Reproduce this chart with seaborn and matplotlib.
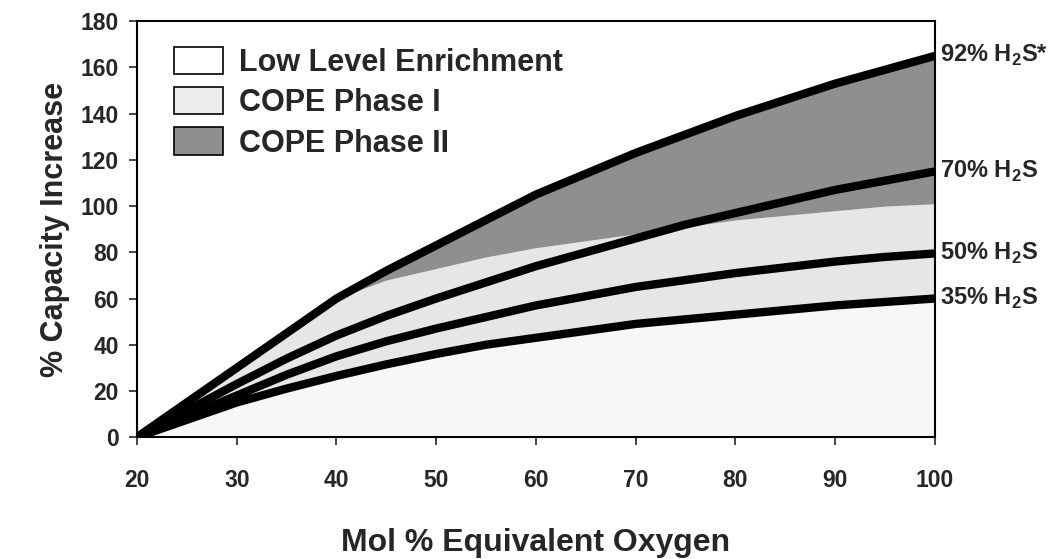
import numpy as np
import pandas as pd
import seaborn as sns
import matplotlib
matplotlib.use("Agg")
from matplotlib import pyplot as plt
from matplotlib.patches import Patch

# data
oxygen = [20, 25, 30, 35, 40, 45, 50, 55, 60, 65, 70, 75, 80, 85, 90, 95, 100]
h2s_92 = [0, 15, 30, 45, 60, 72, 83, 94, 105, 114, 123, 131, 139, 146, 153, 159, 165]
h2s_70 = [0, 11.5, 23, 34, 44, 52.5, 60, 67, 74, 80, 86, 92, 97, 102, 107, 111, 115]
h2s_50 = [0, 9, 18, 27, 35, 41.5, 47, 52, 57, 61, 65, 68, 71, 73.5, 76, 78, 79.5]
h2s_35 = [0, 7.5, 15, 21, 26.5, 31.5, 36, 40, 43, 46, 49, 51, 53, 55, 57, 58.5, 60]
# upper edge of the COPE Phase I zone
phase1_top = [0, 15, 30, 45, 60, 68, 73, 78, 82, 85, 88, 91, 94, 96, 98, 100, 101]

curve_names = ["92% H$_\\mathbf{2}$S*", "70% H$_\\mathbf{2}$S",
               "50% H$_\\mathbf{2}$S", "35% H$_\\mathbf{2}$S"]
legend_names = ["Low Level Enrichment", "COPE Phase I", "COPE Phase II"]

sns.set_style("ticks")
plt.rcParams["font.family"] = ["Liberation Sans", "DejaVu Sans"]
plt.rcParams["font.weight"] = "bold"
plt.rcParams["axes.labelweight"] = "bold"
plt.rcParams["mathtext.fontset"] = "custom"
plt.rcParams["mathtext.rm"] = "Liberation Sans:bold"
plt.rcParams["mathtext.bf"] = "Liberation Sans:bold"

df = pd.DataFrame({"oxygen": oxygen * 4,
                   "increase": h2s_92 + h2s_70 + h2s_50 + h2s_35,
                   "curve": sum([[n] * len(oxygen) for n in curve_names], [])})

fig = plt.figure(figsize=(10.54, 5.59), dpi=100)
ax = fig.add_axes([0.130, 0.218, 0.757, 0.744])

x = np.array(oxygen)
top = np.array(h2s_92)
p1 = np.minimum(np.array(phase1_top), top)
ax.fill_between(x, 0, h2s_35, color="#f7f7f7", lw=0)
ax.fill_between(x, h2s_35, p1, color="#e6e6e6", lw=0)
ax.fill_between(x, p1, top, color="#8f8f8f", lw=0)

sns.lineplot(data=df, x="oxygen", y="increase", units="curve", estimator=None,
             color="black", linewidth=6, ax=ax, legend=False,
             solid_joinstyle="round", solid_capstyle="round")
ax.plot([oxygen[0]], [h2s_92[0]], "o", color="black", ms=6)

for name, vals in zip(curve_names, [h2s_92, h2s_70, h2s_50, h2s_35]):
    ax.annotate(name, xy=(oxygen[-1], vals[-1]), xytext=(4, 0),
                textcoords="offset points", ha="left", va="center",
                fontsize=17, annotation_clip=False)

ax.set_xlim(20, 100)
ax.set_ylim(0, 180)
ax.set_xticks(range(20, 101, 10))
ax.set_yticks(range(0, 181, 20))
ax.tick_params(labelsize=16.5, length=6, width=1.2, direction="out")
ax.tick_params(axis="x", pad=17)
ax.tick_params(axis="y", pad=7)
for s in ax.spines.values():
    s.set_linewidth(1.5)
    s.set_color("black")

ax.set_xlabel("Mol % Equivalent Oxygen", fontsize=23, fontweight="bold", labelpad=26)
ax.set_ylabel("% Capacity Increase", fontsize=22, fontweight="bold", labelpad=8)

handles = [Patch(facecolor=c, edgecolor="black", linewidth=1.2)
           for c in ["white", "#ececec", "#8f8f8f"]]
ax.legend(handles, legend_names, loc="upper left", frameon=False,
          fontsize=22, handlelength=1.6, handleheight=1.0,
          labelspacing=0.3, handletextpad=0.5, borderaxespad=0.3,
          bbox_to_anchor=(0.02, 0.99))

plt.savefig("out.png", dpi=100)
plt.close("all")
